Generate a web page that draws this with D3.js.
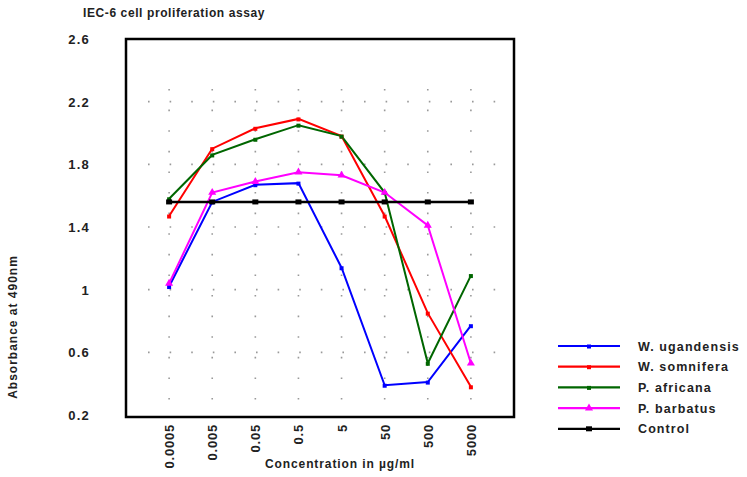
<!DOCTYPE html>
<html>
<head>
<meta charset="utf-8">
<script src="https://cdn.jsdelivr.net/npm/d3@7"></script>
<style>
  body { margin: 0; background: #fff; }
  svg { display: block; font-family: "Liberation Sans", Arial, sans-serif; }
</style>
</head>
<body>
<div id="container"></div>
<script>
const concentrations = ["0.0005", "0.005", "0.05", "0.5", "5", "50", "500", "5000"];
const yTicks = [0.2, 0.6, 1, 1.4, 1.8, 2.2, 2.6];

const ugandensis = [1.02, 1.56, 1.67, 1.68, 1.14, 0.39, 0.41, 0.77];
const somnifera  = [1.47, 1.90, 2.03, 2.09, 1.98, 1.47, 0.85, 0.38];
const africana   = [1.58, 1.86, 1.96, 2.05, 1.98, 1.62, 0.53, 1.09];
const barbatus   = [1.04, 1.62, 1.69, 1.75, 1.73, 1.62, 1.41, 0.53];
const control    = [1.56, 1.56, 1.56, 1.56, 1.56, 1.56, 1.56, 1.56];

const seriesNames = ["W. ugandensis", "W. somnifera", "P. africana", "P. barbatus", "Control"];
const seriesColors = ["#0000ff", "#ff0000", "#006600", "#ff00ff", "#000000"];
const seriesValues = [ugandensis, somnifera, africana, barbatus, control];

const width = 747;
const height = 477;
const plot = {left: 126, right: 514, top: 39, bottom: 417};

const x = d3.scalePoint()
    .domain(concentrations)
    .range([plot.left, plot.right])
    .padding(1);

const y = d3.scaleLinear()
    .domain([0.2, 2.6])
    .range([415, plot.top]);

const svg = d3.create("svg")
    .attr("width", width)
    .attr("height", height)
    .attr("viewBox", [0, 0, width, height]);

// title
svg.append("text")
    .attr("x", 83)
    .attr("y", 17)
    .attr("font-size", 12)
    .attr("font-weight", "bold")
    .attr("letter-spacing", 0.6)
    .attr("fill", "#222")
    .text("IEC-6 cell proliferation assay");

// dotted grid, sparse like the original
const grid = svg.append("g").attr("stroke", "#999").attr("stroke-width", 1.6);
grid.selectAll("line.h")
    .data(yTicks.filter(d => d > 0.2 && d < 2.6))
    .join("line")
    .attr("x1", plot.left + 22).attr("x2", plot.right)
    .attr("y1", d => y(d)).attr("y2", d => y(d))
    .attr("stroke-dasharray", "1.6,20");
grid.selectAll("line.v")
    .data(concentrations)
    .join("line")
    .attr("x1", d => x(d)).attr("x2", d => x(d))
    .attr("y1", plot.top + 50).attr("y2", plot.bottom - 2)
    .attr("stroke-dasharray", "1.6,19");

// y tick labels
svg.append("g")
    .selectAll("text")
    .data(yTicks)
    .join("text")
    .attr("x", 90)
    .attr("y", d => y(d) + 5)
    .attr("text-anchor", "end")
    .attr("font-size", 13)
    .attr("font-weight", "bold")
    .attr("letter-spacing", 1.2)
    .attr("fill", "#222")
    .text(d => d);

// x tick labels, rotated to read bottom-to-top
svg.append("g")
    .selectAll("text")
    .data(concentrations)
    .join("text")
    .attr("transform", d => `translate(${x(d) + 5},424) rotate(-90)`)
    .attr("text-anchor", "end")
    .attr("font-size", 13)
    .attr("font-weight", "bold")
    .attr("letter-spacing", 0.8)
    .attr("fill", "#222")
    .text(d => d);

// axis titles
svg.append("text")
    .attr("x", 340)
    .attr("y", 468)
    .attr("text-anchor", "middle")
    .attr("font-size", 12)
    .attr("font-weight", "bold")
    .attr("letter-spacing", 0.9)
    .attr("fill", "#222")
    .text("Concentration in µg/ml");

svg.append("text")
    .attr("transform", "translate(17,327) rotate(-90)")
    .attr("text-anchor", "middle")
    .attr("font-size", 12)
    .attr("font-weight", "bold")
    .attr("letter-spacing", 1)
    .attr("fill", "#222")
    .text("Absorbance at 490nm");

// lines
const line = d3.line()
    .x((d, i) => x(concentrations[i]))
    .y(d => y(d));

const lines = svg.append("g");
seriesValues.forEach((vals, k) => {
    lines.append("path")
        .attr("d", line(vals))
        .attr("fill", "none")
        .attr("stroke", seriesColors[k])
        .attr("stroke-width", k === 4 ? 2.6 : 2);
});

// markers
function marker(g, k, cx, cy) {
    if (k === 3) {
        g.append("path")
            .attr("d", d3.symbol(d3.symbolTriangle, 28)())
            .attr("transform", `translate(${cx},${cy})`)
            .attr("fill", seriesColors[k]);
    } else if (k === 4) {
        g.append("rect")
            .attr("x", cx - 3).attr("y", cy - 2.5)
            .attr("width", 6).attr("height", 5)
            .attr("fill", seriesColors[k]);
    } else {
        g.append("rect")
            .attr("x", cx - 2).attr("y", cy - 1.5)
            .attr("width", 4).attr("height", 4)
            .attr("fill", seriesColors[k]);
    }
}
const marks = svg.append("g");
seriesValues.forEach((vals, k) => {
    vals.forEach((v, i) => marker(marks, k, x(concentrations[i]), y(v)));
});

// frame
svg.append("rect")
    .attr("x", plot.left).attr("y", plot.top)
    .attr("width", plot.right - plot.left)
    .attr("height", plot.bottom - plot.top)
    .attr("fill", "none")
    .attr("stroke", "#000")
    .attr("stroke-width", 2.5);

// legend
const legend = svg.append("g");
seriesNames.forEach((name, k) => {
    const ly = 346 + k * 20.7;
    legend.append("line")
        .attr("x1", 558).attr("x2", 620)
        .attr("y1", ly).attr("y2", ly)
        .attr("stroke", seriesColors[k])
        .attr("stroke-width", 2.2);
    marker(legend, k, 589, ly);
    legend.append("text")
        .attr("x", 638)
        .attr("y", ly + 4.5)
        .attr("font-size", 12.5)
        .attr("font-weight", "bold")
        .attr("letter-spacing", 1.1)
        .attr("fill", "#222")
        .text(name);
});

d3.select("#container").append(() => svg.node());
</script>
</body>
</html>
